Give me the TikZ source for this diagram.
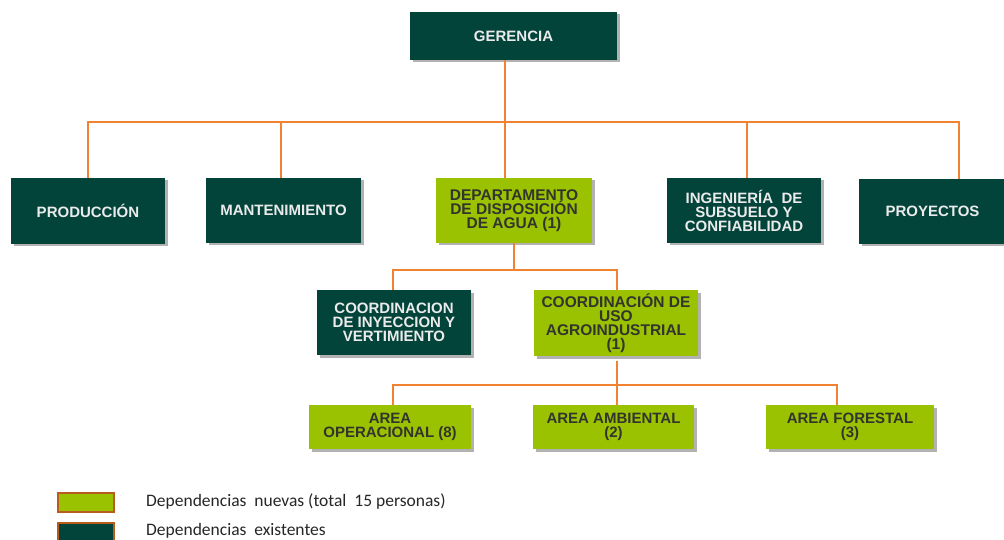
\documentclass[tikz,border=0pt]{standalone}
\usepackage{fontspec}
\setmainfont{Liberation Sans}
\newfontfamily\legendfont{Carlito}
\usetikzlibrary{shadows}
\definecolor{darkbox}{RGB}{3,68,58}
\definecolor{lightbox}{RGB}{155,194,0}
\definecolor{connor}{RGB}{240,130,50}
\definecolor{legborder}{RGB}{184,92,30}
\definecolor{lighttext}{RGB}{235,235,235}
\definecolor{darktext}{RGB}{50,52,45}
\tikzset{
  unit/.style={draw=none, inner sep=0pt, align=center, font=\fontsize{15}{14}\selectfont\bfseries,
    drop shadow={shadow xshift=2.5pt, shadow yshift=-2.5pt, fill=black, opacity=0.3}},
  oldbox/.style={unit, fill=darkbox, text=lighttext},
  newbox/.style={unit, fill=lightbox, text=darktext, font=\fontsize{15.5}{14}\selectfont\bfseries},
  small/.style={font=\fontsize{15}{14}\selectfont\bfseries},
  conn/.style={draw=connor, line width=1.4pt},
  legbox/.style={draw=legborder, line width=2pt, minimum width=56pt, minimum height=19pt, inner sep=0pt},
  legtext/.style={anchor=west, inner sep=0pt, font=\legendfont\fontsize{17.5}{17.5}\selectfont, text=black!85}
}
\begin{document}
\begin{tikzpicture}[x=1pt,y=-1pt]
\useasboundingbox (0,0) rectangle (1004,540);
% level 0
\node[oldbox, minimum width=207pt, minimum height=48pt] (ger) at (513.5,36) {GERENCIA};
% level 1
\node[oldbox, minimum width=154pt, minimum height=66pt] (prod) at (88,211) {PRODUCCIÓN};
\node[oldbox, minimum width=155pt, minimum height=65pt] (mant) at (283.5,210.5) {MANTENIMIENTO};
\node[newbox, minimum width=156pt, minimum height=65pt] (dept) at (514,210.5) {DEPARTAMENTO\\DE DISPOSICIÓN\\DE AGUA (1)};
\node[oldbox, minimum width=154pt, minimum height=65pt] (ing) at (744,210.5) {INGENIERÍA\ \ DE\\SUBSUELO Y\\CONFIABILIDAD};
\node[oldbox, minimum width=147pt, minimum height=65pt] (proy) at (932.5,211.5) {PROYECTOS};
% level 2
\node[oldbox, minimum width=154pt, minimum height=65pt] (cin) at (394,322.5) {COORDINACION\\DE INYECCION Y\\VERTIMIENTO};
\node[newbox, minimum width=164pt, minimum height=66pt] (cuso) at (616,323) {COORDINACIÓN DE\\USO\\AGROINDUSTRIAL\\(1)};
% level 3
\node[newbox, small, minimum width=162pt, minimum height=44pt] (aop) at (390,427) {AREA\\OPERACIONAL (8)};
\node[newbox, small, minimum width=161pt, minimum height=44pt] (aamb) at (613.5,427) {AREA AMBIENTAL\\(2)};
\node[newbox, small, minimum width=168pt, minimum height=44pt] (afor) at (850,427) {AREA FORESTAL\\(3)};
% bus coordinates
\coordinate (bus1) at (0,122);
\coordinate (bus2) at (0,270);
\coordinate (bus3) at (0,385);
% connectors level 0 -> 1
\draw[conn] ([xshift=-8.5pt]ger.south) -- ([xshift=-9pt]dept.north);
\draw[conn] (prod.north) -- (prod.north |- bus1) -- ([xshift=26.5pt]proy.north |- bus1) -- ([xshift=26.5pt]proy.north);
\draw[conn] ([xshift=-2.5pt]mant.north) -- ([xshift=-2.5pt]mant.north |- bus1);
\draw[conn] ([xshift=3pt]ing.north) -- ([xshift=3pt]ing.north |- bus1);
% connectors level 1 -> 2
\draw[conn] (dept.south) -- (dept.south |- bus2);
\draw[conn] ([xshift=-1pt]cin.north) -- ([xshift=-1pt]cin.north |- bus2) -- ([xshift=1pt]cuso.north |- bus2) -- ([xshift=1pt]cuso.north);
% connectors level 2 -> 3
\draw[conn] ([xshift=1pt,yshift=-5pt]cuso.south) -- ([xshift=1pt]cuso.south |- bus3);
\draw[conn] ([xshift=3pt]aop.north) -- ([xshift=3pt]aop.north |- bus3) -- ([xshift=-13pt]afor.north |- bus3) -- ([xshift=-13pt]afor.north);
\draw[conn] ([xshift=3.5pt]aamb.north) -- ([xshift=3.5pt]aamb.north |- bus3);
% legend
\node[legbox, fill=lightbox] (leg1) at (86,502) {};
\node[legbox, fill=darkbox] (leg2) at (86,532) {};
\node[legtext] (lt1) at (146,502) {Dependencias\ \ nuevas (total\ \ 15 personas)};
\node[legtext] (lt2) at (146,531) {Dependencias\ \ existentes};
\end{tikzpicture}
\end{document}
